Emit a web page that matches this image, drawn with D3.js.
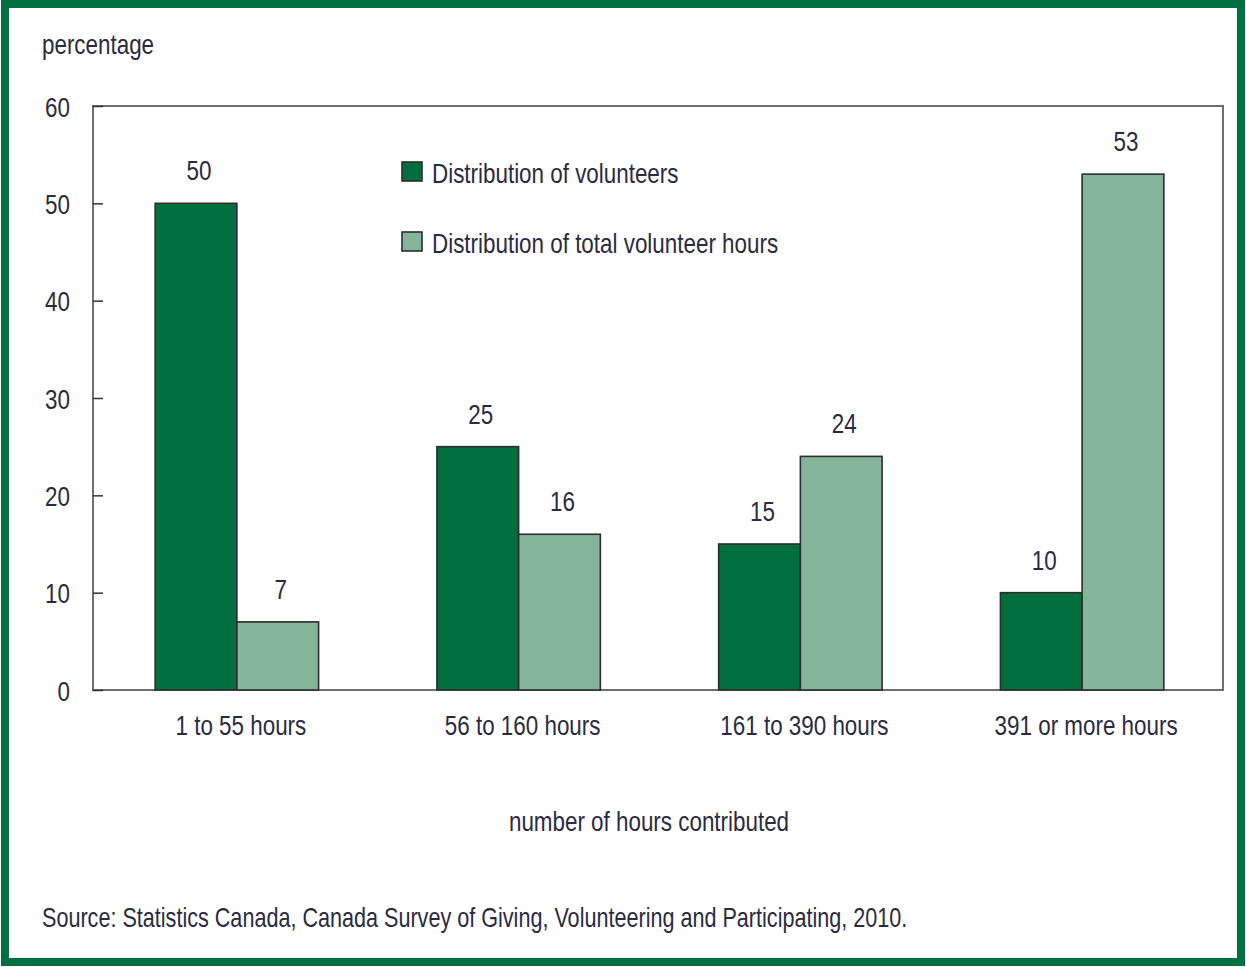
<!DOCTYPE html>
<html>
<head>
<meta charset="utf-8">
<script src="https://cdn.jsdelivr.net/npm/d3@7"></script>
<style>
  html, body { margin: 0; padding: 0; background: #fff; }
  svg { display: block; }
  text { font-family: "Liberation Sans", Arial, sans-serif; fill: #2b2b40; }
</style>
</head>
<body>
<svg id="chart" width="1246" height="967"></svg>
<script>
// Volunteer hours, Canada 2010
const categories = ["1 to 55 hours", "56 to 160 hours", "161 to 390 hours", "391 or more hours"];
const seriesNames = ["Distribution of volunteers", "Distribution of total volunteer hours"];
const volunteers = [50, 25, 15, 10];
const volunteerHours = [7, 16, 24, 53];
const yTicks = [0, 10, 20, 30, 40, 50, 60];
const colors = ["#006f3d", "#84b49a"];

const svg = d3.select("#chart");
const W = 1246, H = 967;
const FS = 27;       // label font size
const SX = 0.83;     // horizontal squeeze for a condensed look

// draws condensed text anchored at (x, y)
function label(parent, x, y, str, anchor = "start", sx = SX) {
  return parent.append("text")
    .attr("transform", `translate(${x},${y}) scale(${sx},1)`)
    .attr("text-anchor", anchor)
    .attr("font-size", FS)
    .text(str);
}

// outer green frame
svg.append("rect")
  .attr("x", 5).attr("y", 4).attr("width", W - 10).attr("height", H - 9)
  .attr("fill", "#fff").attr("stroke", "#007041").attr("stroke-width", 8);

const plot = { left: 93, right: 1223, top: 106, bottom: 690 };

const y = d3.scaleLinear().domain([0, 60]).range([plot.bottom, plot.top]);
const x0 = d3.scaleBand().domain(categories).range([96, plot.right])
  .paddingInner(0.42).paddingOuter(0.21);
const x1 = d3.scaleBand().domain([0, 1]).range([0, x0.bandwidth()]);

// plot frame
svg.append("rect")
  .attr("x", plot.left).attr("y", plot.top)
  .attr("width", plot.right - plot.left).attr("height", plot.bottom - plot.top)
  .attr("fill", "none").attr("stroke", "#6e6e6e").attr("stroke-width", 2);

// y axis with inward ticks
const yAxis = d3.axisLeft(y).tickValues(yTicks).tickSize(-10).tickPadding(0);
const gy = svg.append("g").attr("transform", `translate(${plot.left},0)`).call(yAxis);
gy.select(".domain").remove();
gy.selectAll(".tick line").attr("stroke", "#333").attr("stroke-width", 1.5);
gy.selectAll(".tick text")
  .attr("x", null).attr("dy", null)
  .attr("transform", `translate(-23,10) scale(${SX},1)`)
  .attr("font-size", FS).attr("fill", "#2b2b40")
  .attr("font-family", "Liberation Sans, Arial, sans-serif");

// x axis category labels
const xAxis = d3.axisBottom(x0).tickSize(0).tickPadding(0);
const gx = svg.append("g").attr("transform", `translate(0,${plot.bottom})`).call(xAxis);
gx.select(".domain").remove();
gx.selectAll(".tick text")
  .attr("y", null).attr("dy", null)
  .attr("transform", `translate(4,45) scale(${SX},1)`)
  .attr("font-size", FS).attr("fill", "#2b2b40")
  .attr("font-family", "Liberation Sans, Arial, sans-serif");

// bars
const rows = categories.map((c, i) => ({ cat: c, vals: [volunteers[i], volunteerHours[i]] }));
const groups = svg.append("g").selectAll("g").data(rows).join("g")
  .attr("transform", d => `translate(${x0(d.cat)},0)`);

groups.selectAll("rect").data(d => d.vals.map((v, k) => ({ v, k }))).join("rect")
  .attr("x", d => x1(d.k))
  .attr("y", d => y(d.v))
  .attr("width", x1.bandwidth())
  .attr("height", d => y(0) - y(d.v))
  .attr("fill", d => colors[d.k])
  .attr("stroke", "#2d2d2d").attr("stroke-width", 1.6);

groups.each(function (d) {
  const g = d3.select(this);
  d.vals.forEach((v, k) => {
    label(g, x1(k) + x1.bandwidth() / 2 + 3, y(v) - 23, v, "middle");
  });
});

// legend
const legend = svg.append("g").attr("transform", "translate(402,160)");
seriesNames.forEach((name, k) => {
  const g = legend.append("g").attr("transform", `translate(0,${k * 70})`);
  g.append("rect").attr("x", 0).attr("y", 2).attr("width", 20).attr("height", 19)
    .attr("fill", colors[k]).attr("stroke", "#2d2d2d").attr("stroke-width", 1.6);
  label(g, 30, 23, name);
});

// titles
label(svg, 42, 54, "percentage");
label(svg, 649, 831, "number of hours contributed", "middle");
label(svg, 42, 927, "Source: Statistics Canada, Canada Survey of Giving, Volunteering and Participating, 2010.", "start", 0.80);
</script>
</body>
</html>
